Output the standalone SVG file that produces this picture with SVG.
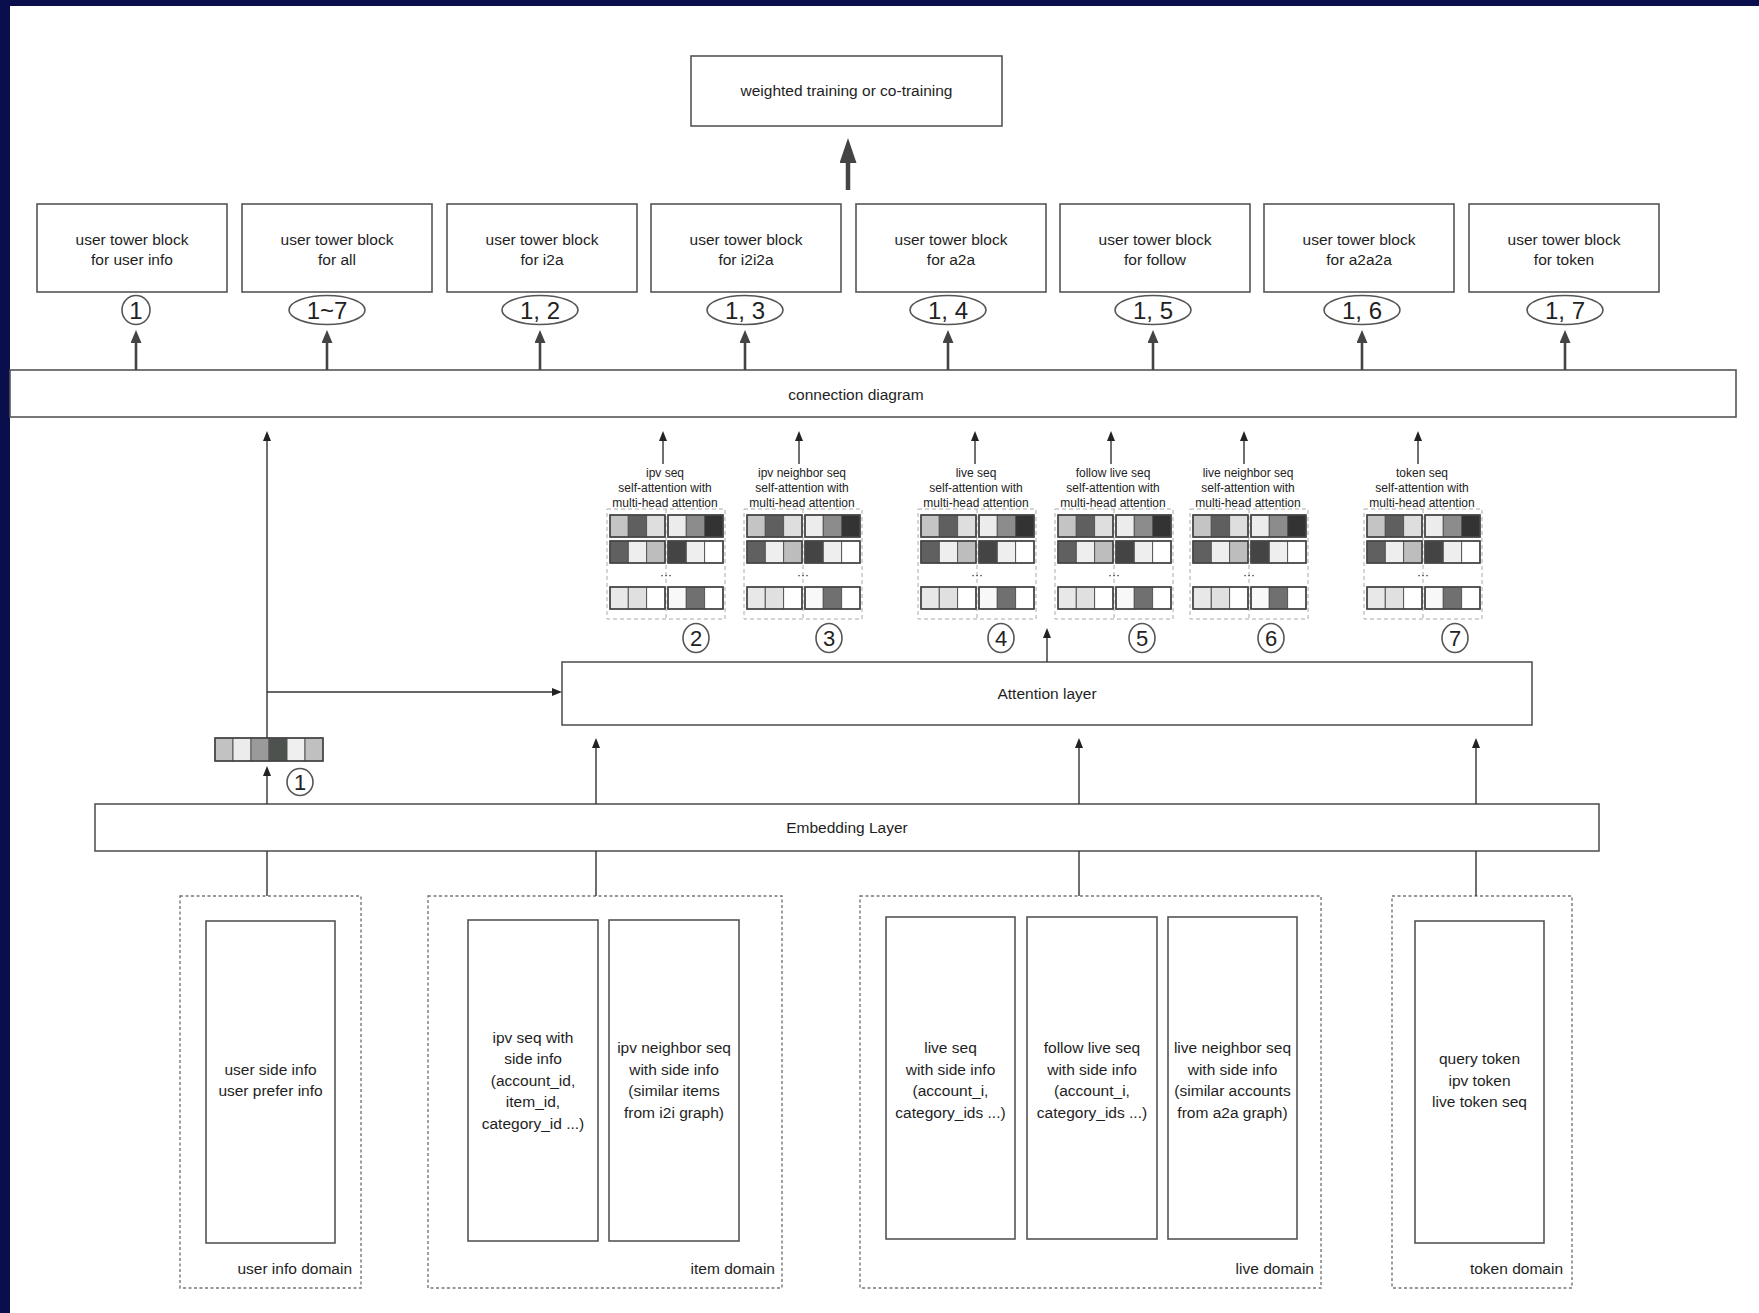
<svg xmlns="http://www.w3.org/2000/svg" xmlns:xlink="http://www.w3.org/1999/xlink" width="1759" height="1313" viewBox="0 0 1759 1313">
<style>
.bx{fill:#fff;stroke:#555;stroke-width:1.6}
.dom{fill:none;stroke:#777;stroke-width:1.4;stroke-dasharray:3 2.5}
.t{font-family:"Liberation Sans",Arial,sans-serif;font-size:15.5px;fill:#1e1e1e;text-anchor:middle}
.tr{font-family:"Liberation Sans",Arial,sans-serif;font-size:15.5px;fill:#1e1e1e;text-anchor:end}
.ts{font-family:"Liberation Sans",Arial,sans-serif;font-size:12px;fill:#222;text-anchor:middle}
.tn{font-family:"Liberation Sans",Arial,sans-serif;font-size:24px;fill:#222;text-anchor:middle}
.tc{font-family:"Liberation Sans",Arial,sans-serif;font-size:22px;fill:#222;text-anchor:middle}
.ell{fill:#fff;stroke:#555;stroke-width:1.6}
.thin{stroke:#333;stroke-width:1.4;fill:none}
.mid{stroke:#444;stroke-width:2.6;fill:none}
.thick{stroke:#444;stroke-width:4.5;fill:none}
.cell{stroke:#555;stroke-width:1}
.grp{fill:none;stroke:#444;stroke-width:1.6}
.mdash{fill:none;stroke:#aaa;stroke-width:1;stroke-dasharray:4 3}
</style>
<defs>
<marker id="ahThin" markerUnits="userSpaceOnUse" markerWidth="10" markerHeight="8" refX="0" refY="4" orient="auto"><path d="M0,0 L10,4 L0,8 z" fill="#222"/></marker>
<marker id="ahMid" markerUnits="userSpaceOnUse" markerWidth="13" markerHeight="11" refX="0" refY="5.5" orient="auto"><path d="M0,0 L13,5.5 L0,11 z" fill="#444"/></marker>
<marker id="ahThick" markerUnits="userSpaceOnUse" markerWidth="25" markerHeight="17" refX="0" refY="8.5" orient="auto"><path d="M0,0 L25,8.5 L0,17 z" fill="#444"/></marker>
<g id="mat">
<rect class="mdash" x="0" y="509" width="118" height="110"/>
<line class="mdash" x1="59" y1="509" x2="59" y2="619"/>
<rect class="cell" x="3" y="515" width="18.3" height="22" fill="#c4c4c4"/>
<rect class="cell" x="21.3" y="515" width="18.3" height="22" fill="#5f5f5f"/>
<rect class="cell" x="39.6" y="515" width="18.4" height="22" fill="#dedede"/>
<rect class="cell" x="61" y="515" width="18.3" height="22" fill="#ececec"/>
<rect class="cell" x="79.3" y="515" width="18.3" height="22" fill="#8c8c8c"/>
<rect class="cell" x="97.6" y="515" width="18.4" height="22" fill="#333"/>
<rect class="cell" x="3" y="541" width="18.3" height="22" fill="#606060"/>
<rect class="cell" x="21.3" y="541" width="18.3" height="22" fill="#eee"/>
<rect class="cell" x="39.6" y="541" width="18.4" height="22" fill="#bdbdbd"/>
<rect class="cell" x="61" y="541" width="18.3" height="22" fill="#444"/>
<rect class="cell" x="79.3" y="541" width="18.3" height="22" fill="#eee"/>
<rect class="cell" x="97.6" y="541" width="18.4" height="22" fill="#fff"/>
<rect class="cell" x="3" y="587" width="18.3" height="22" fill="#e8e8e8"/>
<rect class="cell" x="21.3" y="587" width="18.3" height="22" fill="#e0e0e0"/>
<rect class="cell" x="39.6" y="587" width="18.4" height="22" fill="#fff"/>
<rect class="cell" x="61" y="587" width="18.3" height="22" fill="#f8f8f8"/>
<rect class="cell" x="79.3" y="587" width="18.3" height="22" fill="#707070"/>
<rect class="cell" x="97.6" y="587" width="18.4" height="22" fill="#fff"/>
<rect class="grp" x="3" y="515" width="55" height="22"/>
<rect class="grp" x="61" y="515" width="55" height="22"/>
<rect class="grp" x="3" y="541" width="55" height="22"/>
<rect class="grp" x="61" y="541" width="55" height="22"/>
<rect class="grp" x="3" y="587" width="55" height="22"/>
<rect class="grp" x="61" y="587" width="55" height="22"/>
<text class="ts" x="59" y="579">···</text>
</g>
</defs>

<rect x="0" y="0" width="1759" height="1313" fill="#0b0e4d"/>
<rect x="10" y="6" width="1749" height="1307" fill="#fff"/>

<g id="top-box">
<rect class="bx" x="691" y="56" width="311" height="70"/>
<text class="t" x="846.5" y="96">weighted training or co-training</text>
</g>

<g id="tower-blocks">
<g id="tower-userinfo"><rect class="bx" x="37" y="204" width="190" height="88"/><text class="t" x="132" y="245">user tower block</text><text class="t" x="132" y="265">for user info</text></g>
<g id="tower-all"><rect class="bx" x="242" y="204" width="190" height="88"/><text class="t" x="337" y="245">user tower block</text><text class="t" x="337" y="265">for all</text></g>
<g id="tower-i2a"><rect class="bx" x="447" y="204" width="190" height="88"/><text class="t" x="542" y="245">user tower block</text><text class="t" x="542" y="265">for i2a</text></g>
<g id="tower-i2i2a"><rect class="bx" x="651" y="204" width="190" height="88"/><text class="t" x="746" y="245">user tower block</text><text class="t" x="746" y="265">for i2i2a</text></g>
<g id="tower-a2a"><rect class="bx" x="856" y="204" width="190" height="88"/><text class="t" x="951" y="245">user tower block</text><text class="t" x="951" y="265">for a2a</text></g>
<g id="tower-follow"><rect class="bx" x="1060" y="204" width="190" height="88"/><text class="t" x="1155" y="245">user tower block</text><text class="t" x="1155" y="265">for follow</text></g>
<g id="tower-a2a2a"><rect class="bx" x="1264" y="204" width="190" height="88"/><text class="t" x="1359" y="245">user tower block</text><text class="t" x="1359" y="265">for a2a2a</text></g>
<g id="tower-token"><rect class="bx" x="1469" y="204" width="190" height="88"/><text class="t" x="1564" y="245">user tower block</text><text class="t" x="1564" y="265">for token</text></g>
</g>

<g id="tower-labels">
<g id="lbl-1"><ellipse class="ell" cx="136" cy="310" rx="14" ry="14.5"/><text class="tn" x="136" y="318.5">1</text></g>
<g id="lbl-1-7"><ellipse class="ell" cx="327" cy="310" rx="38" ry="14.5"/><text class="tn" x="327" y="318.5">1~7</text></g>
<g id="lbl-1-2"><ellipse class="ell" cx="540" cy="310" rx="38" ry="14.5"/><text class="tn" x="540" y="318.5">1, 2</text></g>
<g id="lbl-1-3"><ellipse class="ell" cx="745" cy="310" rx="38" ry="14.5"/><text class="tn" x="745" y="318.5">1, 3</text></g>
<g id="lbl-1-4"><ellipse class="ell" cx="948" cy="310" rx="38" ry="14.5"/><text class="tn" x="948" y="318.5">1, 4</text></g>
<g id="lbl-1-5"><ellipse class="ell" cx="1153" cy="310" rx="38" ry="14.5"/><text class="tn" x="1153" y="318.5">1, 5</text></g>
<g id="lbl-1-6"><ellipse class="ell" cx="1362" cy="310" rx="38" ry="14.5"/><text class="tn" x="1362" y="318.5">1, 6</text></g>
<g id="lbl-1-7b"><ellipse class="ell" cx="1565" cy="310" rx="38" ry="14.5"/><text class="tn" x="1565" y="318.5">1, 7</text></g>
</g>

<g id="connection-diagram">
<rect class="bx" x="10" y="370" width="1726" height="47"/>
<text class="t" x="856" y="400">connection diagram</text>
</g>

<g id="self-attention-blocks">
<g id="sa-ipv"><use href="#mat" x="607"/><text class="ts" x="665" y="477">ipv seq</text><text class="ts" x="665" y="492">self-attention with</text><text class="ts" x="665" y="507">multi-head attention</text></g>
<g id="sa-ipv-neighbor"><use href="#mat" x="744"/><text class="ts" x="802" y="477">ipv neighbor seq</text><text class="ts" x="802" y="492">self-attention with</text><text class="ts" x="802" y="507">multi-head attention</text></g>
<g id="sa-live"><use href="#mat" x="918"/><text class="ts" x="976" y="477">live seq</text><text class="ts" x="976" y="492">self-attention with</text><text class="ts" x="976" y="507">multi-head attention</text></g>
<g id="sa-follow"><use href="#mat" x="1055"/><text class="ts" x="1113" y="477">follow live seq</text><text class="ts" x="1113" y="492">self-attention with</text><text class="ts" x="1113" y="507">multi-head attention</text></g>
<g id="sa-live-neighbor"><use href="#mat" x="1190"/><text class="ts" x="1248" y="477">live neighbor seq</text><text class="ts" x="1248" y="492">self-attention with</text><text class="ts" x="1248" y="507">multi-head attention</text></g>
<g id="sa-token"><use href="#mat" x="1364"/><text class="ts" x="1422" y="477">token seq</text><text class="ts" x="1422" y="492">self-attention with</text><text class="ts" x="1422" y="507">multi-head attention</text></g>
</g>

<g id="circled-numbers">
<g id="c2"><ellipse class="ell" cx="696" cy="638" rx="13" ry="14.5"/><text class="tc" x="696" y="646">2</text></g>
<g id="c3"><ellipse class="ell" cx="829" cy="638" rx="13" ry="14.5"/><text class="tc" x="829" y="646">3</text></g>
<g id="c4"><ellipse class="ell" cx="1001" cy="638" rx="13" ry="14.5"/><text class="tc" x="1001" y="646">4</text></g>
<g id="c5"><ellipse class="ell" cx="1142" cy="638" rx="13" ry="14.5"/><text class="tc" x="1142" y="646">5</text></g>
<g id="c6"><ellipse class="ell" cx="1271" cy="638" rx="13" ry="14.5"/><text class="tc" x="1271" y="646">6</text></g>
<g id="c7"><ellipse class="ell" cx="1455" cy="638" rx="13" ry="14.5"/><text class="tc" x="1455" y="646">7</text></g>
<g id="c1"><ellipse class="ell" cx="300" cy="782" rx="13" ry="13.5"/><text class="tc" x="300" y="790">1</text></g>
</g>

<g id="attention-layer">
<rect class="bx" x="562" y="662" width="970" height="63"/>
<text class="t" x="1047" y="699">Attention layer</text>
</g>

<g id="user-embedding">
<rect class="cell" x="215" y="738" width="18" height="23" fill="#c2c2c2"/>
<rect class="cell" x="233" y="738" width="18" height="23" fill="#ececec"/>
<rect class="cell" x="251" y="738" width="18" height="23" fill="#9a9a9a"/>
<rect class="cell" x="269" y="738" width="18" height="23" fill="#4e524e"/>
<rect class="cell" x="287" y="738" width="18" height="23" fill="#efefef"/>
<rect class="cell" x="305" y="738" width="18" height="23" fill="#c0c0c0"/>
<rect class="grp" x="215" y="738" width="108" height="23"/>
</g>

<g id="embedding-layer">
<rect class="bx" x="95" y="804" width="1504" height="47"/>
<text class="t" x="847" y="833">Embedding Layer</text>
</g>

<g id="user-info-domain">
<rect class="dom" x="180" y="896" width="181" height="392"/>
<rect class="bx" x="206" y="921" width="129" height="322"/>
<text class="t" x="270.5" y="1075">user side info</text>
<text class="t" x="270.5" y="1096">user prefer info</text>
<text class="tr" x="352" y="1274">user info domain</text>
</g>

<g id="item-domain">
<rect class="dom" x="428" y="896" width="354" height="392"/>
<rect class="bx" x="468" y="920" width="130" height="321"/>
<text class="t" x="533" y="1042.5">ipv seq with</text>
<text class="t" x="533" y="1064">side info</text>
<text class="t" x="533" y="1085.5">(account_id,</text>
<text class="t" x="533" y="1107">item_id,</text>
<text class="t" x="533" y="1128.5">category_id ...)</text>
<rect class="bx" x="609" y="920" width="130" height="321"/>
<text class="t" x="674" y="1053">ipv neighbor seq</text>
<text class="t" x="674" y="1075">with side info</text>
<text class="t" x="674" y="1096">(similar items</text>
<text class="t" x="674" y="1118">from i2i graph)</text>
<text class="tr" x="775" y="1274">item domain</text>
</g>

<g id="live-domain">
<rect class="dom" x="860" y="896" width="461" height="392"/>
<rect class="bx" x="886" y="917" width="129" height="322"/>
<text class="t" x="950.5" y="1053">live seq</text>
<text class="t" x="950.5" y="1075">with side info</text>
<text class="t" x="950.5" y="1096">(account_i,</text>
<text class="t" x="950.5" y="1118">category_ids ...)</text>
<rect class="bx" x="1027" y="917" width="130" height="322"/>
<text class="t" x="1092" y="1053">follow live seq</text>
<text class="t" x="1092" y="1075">with side info</text>
<text class="t" x="1092" y="1096">(account_i,</text>
<text class="t" x="1092" y="1118">category_ids ...)</text>
<rect class="bx" x="1168" y="917" width="129" height="322"/>
<text class="t" x="1232.5" y="1053">live neighbor seq</text>
<text class="t" x="1232.5" y="1075">with side info</text>
<text class="t" x="1232.5" y="1096">(similar accounts</text>
<text class="t" x="1232.5" y="1118">from a2a graph)</text>
<text class="tr" x="1314" y="1274">live domain</text>
</g>

<g id="token-domain">
<rect class="dom" x="1392" y="896" width="180" height="392"/>
<rect class="bx" x="1415" y="921" width="129" height="322"/>
<text class="t" x="1479.5" y="1064">query token</text>
<text class="t" x="1479.5" y="1086">ipv token</text>
<text class="t" x="1479.5" y="1107">live token seq</text>
<text class="tr" x="1563" y="1274">token domain</text>
</g>

<g id="connectors">
<line class="thick" x1="848" y1="190" x2="848" y2="163" marker-end="url(#ahThick)"/>
<line class="mid" x1="136" y1="370" x2="136" y2="343" marker-end="url(#ahMid)"/>
<line class="mid" x1="327" y1="370" x2="327" y2="343" marker-end="url(#ahMid)"/>
<line class="mid" x1="540" y1="370" x2="540" y2="343" marker-end="url(#ahMid)"/>
<line class="mid" x1="745" y1="370" x2="745" y2="343" marker-end="url(#ahMid)"/>
<line class="mid" x1="948" y1="370" x2="948" y2="343" marker-end="url(#ahMid)"/>
<line class="mid" x1="1153" y1="370" x2="1153" y2="343" marker-end="url(#ahMid)"/>
<line class="mid" x1="1362" y1="370" x2="1362" y2="343" marker-end="url(#ahMid)"/>
<line class="mid" x1="1565" y1="370" x2="1565" y2="343" marker-end="url(#ahMid)"/>
<line class="thin" x1="663" y1="464" x2="663" y2="441" marker-end="url(#ahThin)"/>
<line class="thin" x1="799" y1="464" x2="799" y2="441" marker-end="url(#ahThin)"/>
<line class="thin" x1="975" y1="464" x2="975" y2="441" marker-end="url(#ahThin)"/>
<line class="thin" x1="1111" y1="464" x2="1111" y2="441" marker-end="url(#ahThin)"/>
<line class="thin" x1="1244" y1="464" x2="1244" y2="441" marker-end="url(#ahThin)"/>
<line class="thin" x1="1418" y1="464" x2="1418" y2="441" marker-end="url(#ahThin)"/>
<line class="thin" x1="267" y1="738" x2="267" y2="441" marker-end="url(#ahThin)"/>
<line class="thin" x1="267" y1="692" x2="552" y2="692" marker-end="url(#ahThin)"/>
<line class="thin" x1="1047" y1="662" x2="1047" y2="638" marker-end="url(#ahThin)"/>
<line class="thin" x1="267" y1="804" x2="267" y2="776" marker-end="url(#ahThin)"/>
<line class="thin" x1="596" y1="804" x2="596" y2="748" marker-end="url(#ahThin)"/>
<line class="thin" x1="1079" y1="804" x2="1079" y2="748" marker-end="url(#ahThin)"/>
<line class="thin" x1="1476" y1="804" x2="1476" y2="748" marker-end="url(#ahThin)"/>
<line class="thin" x1="267" y1="851" x2="267" y2="896"/>
<line class="thin" x1="596" y1="851" x2="596" y2="896"/>
<line class="thin" x1="1079" y1="851" x2="1079" y2="896"/>
<line class="thin" x1="1476" y1="851" x2="1476" y2="896"/>
</g>
</svg>
